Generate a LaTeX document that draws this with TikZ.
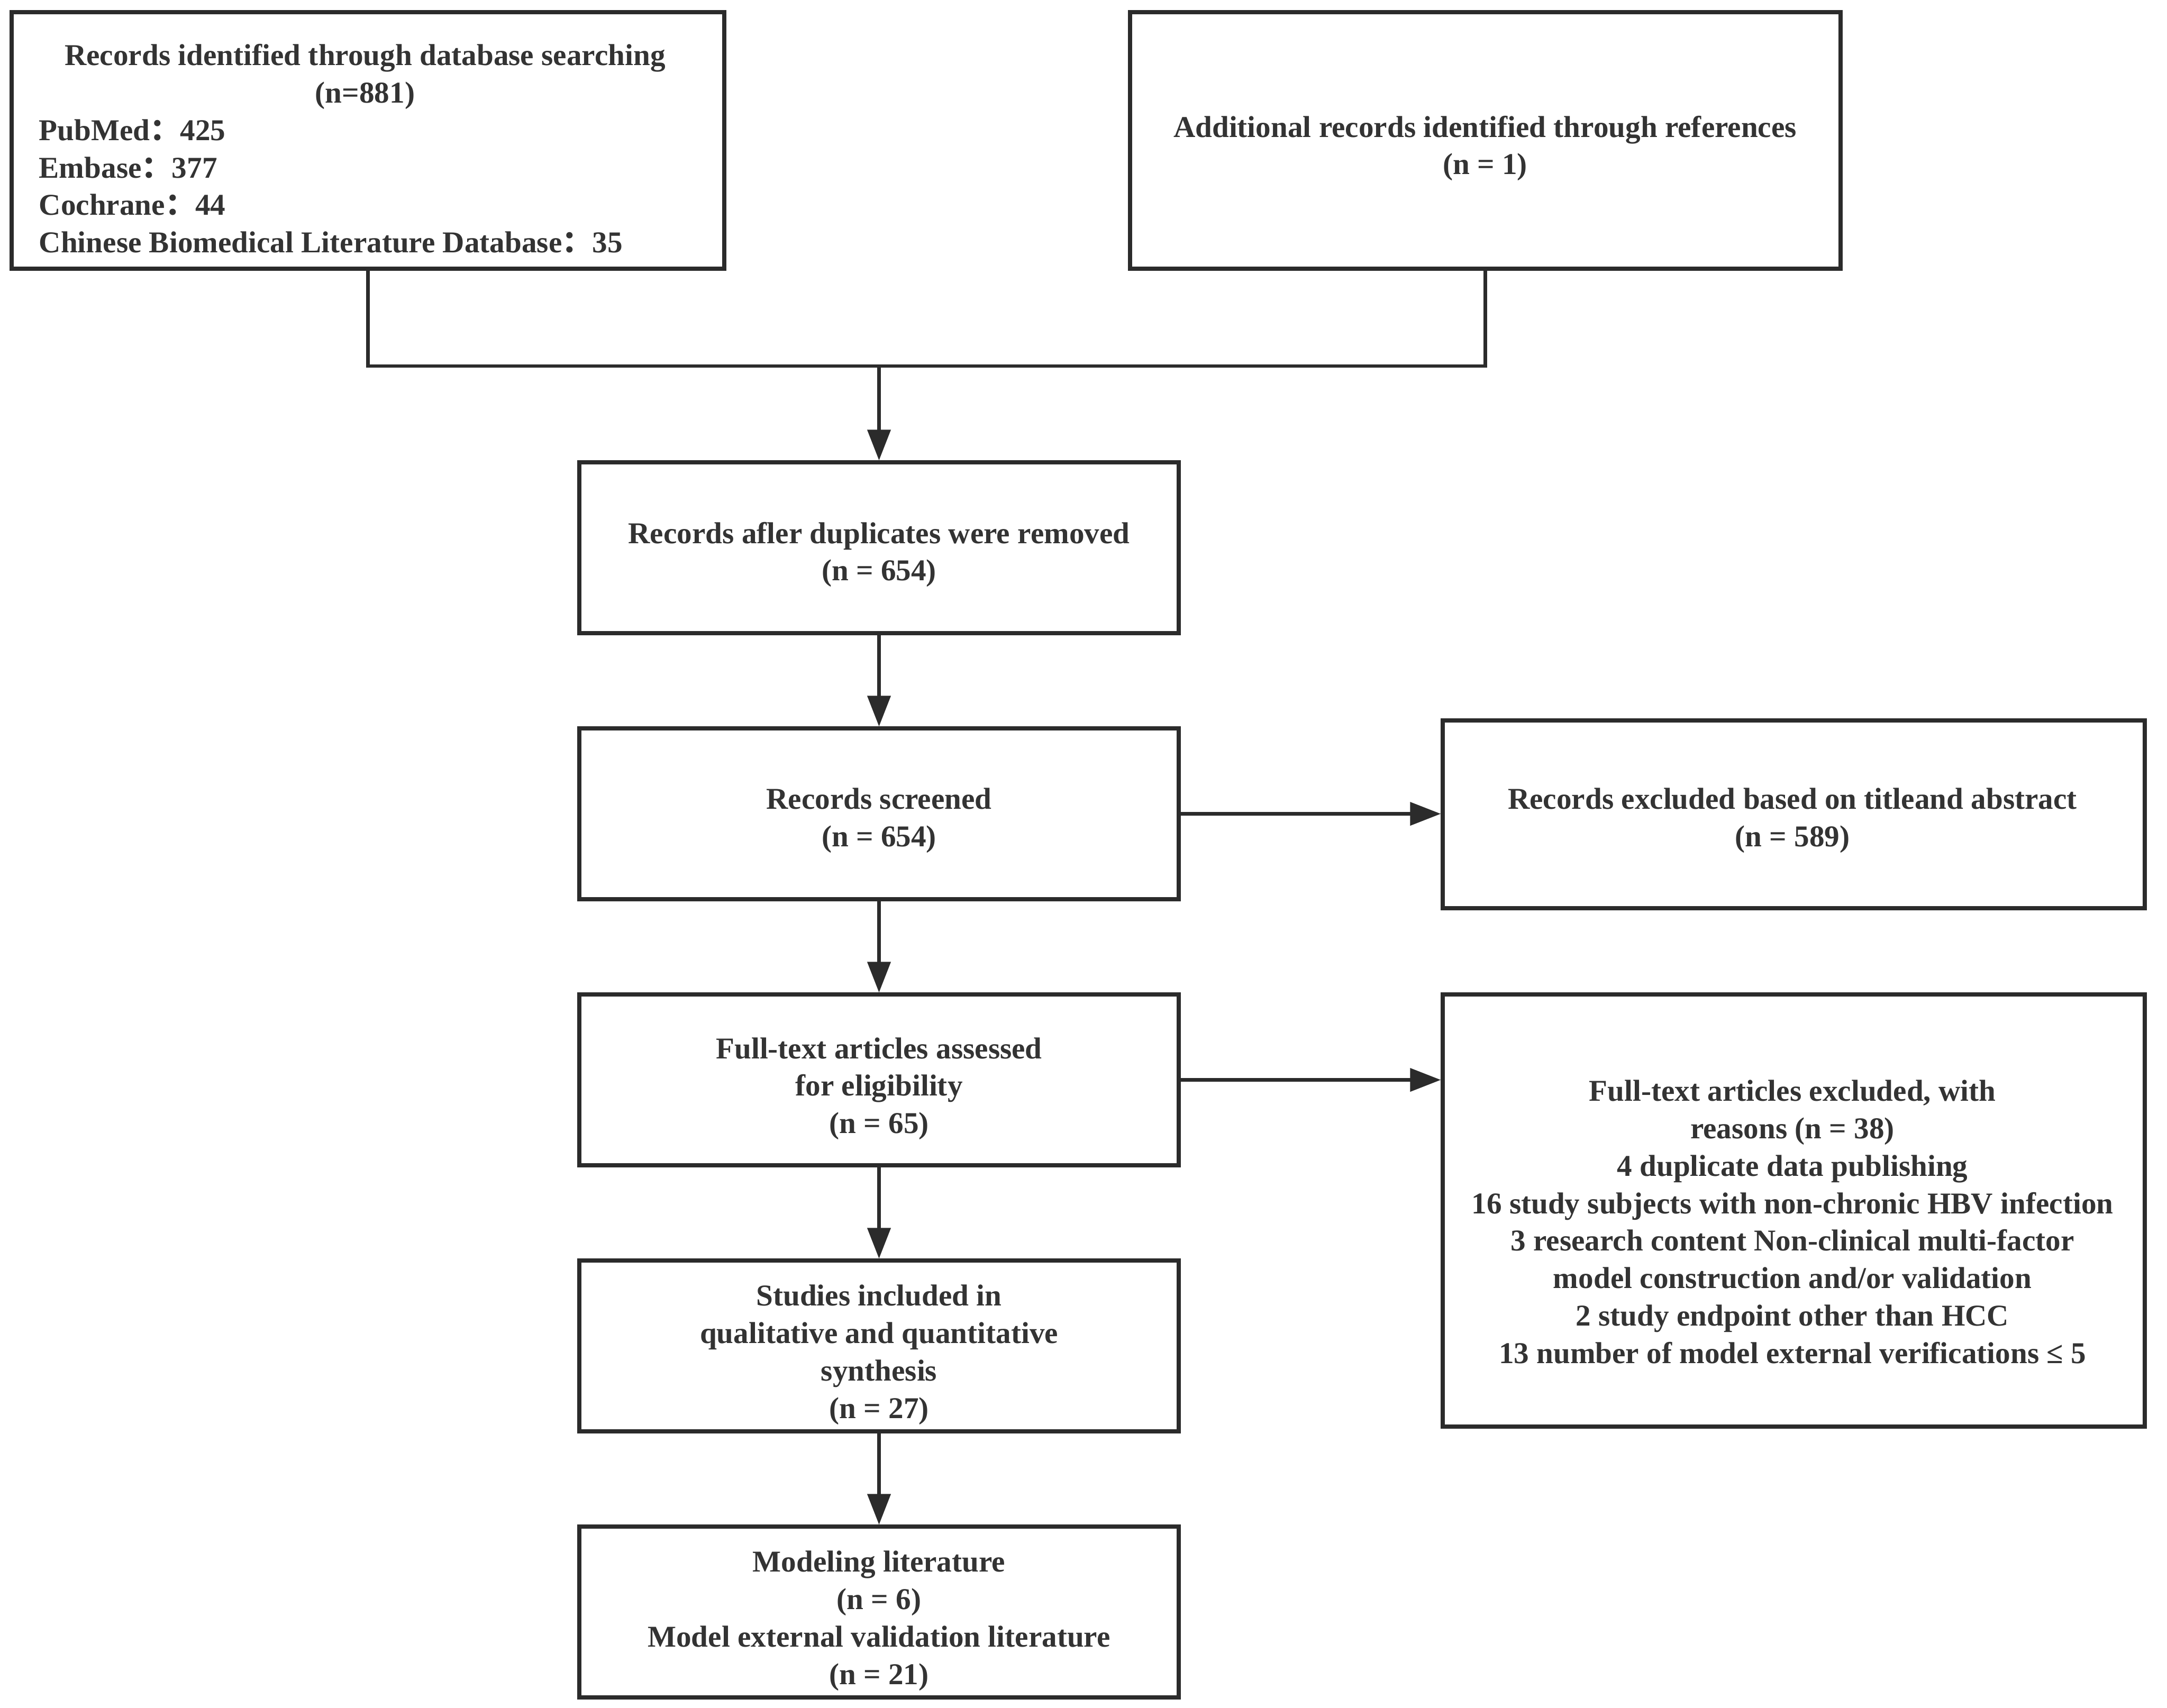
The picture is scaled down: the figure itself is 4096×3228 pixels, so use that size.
\documentclass[tikz,border=0pt]{standalone}
\usepackage{fontspec}
\setmainfont{Liberation Serif}
\newfontfamily\cjk{Noto Sans CJK SC}
\usetikzlibrary{arrows.meta}
\definecolor{linec}{HTML}{2B2B2B}
\definecolor{textc}{HTML}{333333}
\begin{document}
\begin{tikzpicture}[x=0.25pt,y=-0.25pt,
  box/.style={draw=linec, line width=1.8pt, inner sep=0pt, fill=white},
  txt/.style={font=\fontsize{14.3}{17.7}\selectfont\bfseries, text=textc, align=center, inner sep=0pt},
  conn/.style={draw=linec, line width=1.65pt},
  arr/.style={conn, -{Triangle[length=14.5pt,width=10.8pt]}}]
\useasboundingbox (0,0) rectangle (4096,3228);
\fill[white] (0,0) rectangle (4096,3228);
% boxes
\node[box, minimum width=336.75pt, minimum height=121.25pt] (A) at (695.5,265.5) {};
\node[box, minimum width=335.75pt, minimum height=121.25pt] (B) at (2807.5,265.5) {};
\node[box, minimum width=283.25pt, minimum height=80.75pt] (C) at (1661.5,1035.5) {};
\node[box, minimum width=283.25pt, minimum height=80.75pt] (D) at (1661.5,1538.5) {};
\node[box, minimum width=283.25pt, minimum height=80.75pt] (E) at (1661.5,2041.5) {};
\node[box, minimum width=283.25pt, minimum height=80.75pt] (F) at (1661.5,2544.5) {};
\node[box, minimum width=283.25pt, minimum height=80.75pt] (G) at (1661.5,3047.5) {};
\node[box, minimum width=331.75pt, minimum height=88.75pt] (H) at (3390.5,1539.5) {};
\node[box, minimum width=331.75pt, minimum height=204.25pt] (I) at (3390.5,2288.5) {};
% texts
\node[txt] (At1) at (690,145) {Records identified through database searching\\(n=881)};
\node[txt, align=left, anchor=west] (At2) at (73,352) {PubMed{\cjk ：}425\\Embase{\cjk ：}377\\Cochrane{\cjk ：}44\\Chinese Biomedical Literature Database{\cjk ：}35};
\node[txt] (Bt) at (2807,280.5) {Additional records identified through references\\(n = 1)};
\node[txt] (Ct) at (1661.5,1048.5) {Records afler duplicates were removed\\(n = 654)};
\node[txt] (Dt) at (1661.5,1551.5) {Records screened\\(n = 654)};
\node[txt] (Et) at (1661.5,2058) {Full-text articles assessed\\for eligibility\\(n = 65)};
\node[txt] (Ft) at (1661.5,2561) {Studies included in\\qualitative and quantitative\\synthesis\\(n = 27)};
\node[txt] (Gt) at (1661.5,3064) {Modeling literature\\(n = 6)\\Model external validation literature\\(n = 21)};
\node[txt] (Ht) at (3388,1551.5) {Records excluded based on titleand abstract\\(n = 589)};
\node[txt] (It) at (3388,2310) {Full-text articles excluded, with\\reasons (n = 38)\\4 duplicate data publishing\\16 study subjects with non-chronic HBV infection\\3 research content Non-clinical multi-factor\\model construction and/or validation\\2 study endpoint other than HCC\\13 number of model external verifications ≤ 5};
% connectors
\coordinate (j) at (1661.5,692);
\draw[conn] (A.south) |- (j) -| (B.south);
\draw[arr] (j) -- (C.north);
\draw[arr] (C.south) -- (D.north);
\draw[arr] (D.south) -- (E.north);
\draw[arr] (E.south) -- (F.north);
\draw[arr] (F.south) -- (G.north);
\draw[arr] (D.east) -- (D.east -| H.west);
\draw[arr] (E.east) -- (E.east -| I.west);
\end{tikzpicture}
\end{document}
